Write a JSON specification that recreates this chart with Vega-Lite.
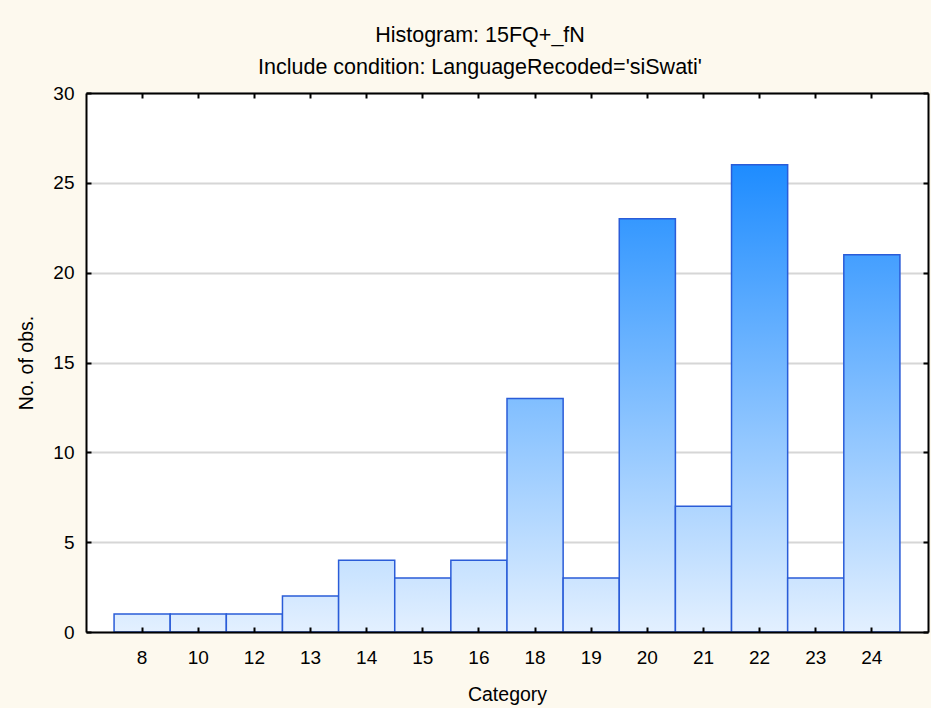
{
  "$schema": "https://vega.github.io/schema/vega-lite/v6.json",
  "width": 842,
  "height": 539,
  "autosize": {"type": "none"},
  "padding": {"left": 86, "top": 93, "right": 3, "bottom": 76},
  "background": "#fdf9ee",
  "view": {"fill": "white", "stroke": null},
  "title": {
    "text": "Histogram: 15FQ+_fN",
    "subtitle": "Include condition: LanguageRecoded='siSwati'",
    "anchor": "middle",
    "frame": "group",
    "dx": -27,
    "offset": 6,
    "font": "Liberation Sans",
    "fontSize": 21.5,
    "fontWeight": "normal",
    "color": "black",
    "subtitleFont": "Liberation Sans",
    "subtitleFontSize": 21.5,
    "subtitleColor": "black",
    "subtitlePadding": 10
  },
  "data": {
    "values": [
      {"Category": 8, "count": 1},
      {"Category": 10, "count": 1},
      {"Category": 12, "count": 1},
      {"Category": 13, "count": 2},
      {"Category": 14, "count": 4},
      {"Category": 15, "count": 3},
      {"Category": 16, "count": 4},
      {"Category": 18, "count": 13},
      {"Category": 19, "count": 3},
      {"Category": 20, "count": 23},
      {"Category": 21, "count": 7},
      {"Category": 22, "count": 26},
      {"Category": 23, "count": 3},
      {"Category": 24, "count": 21}
    ]
  },
  "resolve": {"axis": {"x": "independent", "y": "independent"}},
  "layer": [
    {
      "mark": {"type": "bar", "stroke": "#2a5cd8", "strokeWidth": 1.5},
      "encoding": {
        "x": {
          "field": "Category",
          "type": "ordinal",
          "scale": {"paddingInner": 0, "paddingOuter": 0.5},
          "axis": {
            "orient": "bottom",
            "title": "Category",
            "labelAngle": 0,
            "labelFont": "Liberation Sans",
            "labelFontSize": 19,
            "labelColor": "black",
            "labelPadding": 21,
            "titleFont": "Liberation Sans",
            "titleFontSize": 19.5,
            "titleFontWeight": "normal",
            "titleColor": "black",
            "titlePadding": 18,
            "domainColor": "black",
            "domainWidth": 2,
            "tickColor": "black",
            "tickWidth": 2,
            "tickSize": -5,
            "grid": false,
            "zindex": 1
          }
        },
        "y": {
          "field": "count",
          "type": "quantitative",
          "scale": {"domain": [0, 30], "nice": false},
          "axis": {
            "orient": "left",
            "title": "No. of obs.",
            "values": [0, 5, 10, 15, 20, 25, 30],
            "labelFont": "Liberation Sans",
            "labelFontSize": 19,
            "labelColor": "black",
            "labelPadding": 17,
            "titleFont": "Liberation Sans",
            "titleFontSize": 19.5,
            "titleFontWeight": "normal",
            "titleColor": "black",
            "titlePadding": 16,
            "domainColor": "black",
            "domainWidth": 2,
            "tickColor": "black",
            "tickWidth": 2,
            "tickSize": -5,
            "grid": true,
            "gridColor": "#d6d6d6",
            "gridWidth": 2,
            "zindex": 0
          }
        },
        "fill": {
          "condition": [
            {"test": "datum.count == 1", "value": {"gradient": "linear", "x1": 0, "y1": 1, "x2": 0, "y2": 0, "stops": [{"offset": 0, "color": "#e3f0ff"}, {"offset": 1, "color": "#dbecff"}]}},
            {"test": "datum.count == 2", "value": {"gradient": "linear", "x1": 0, "y1": 1, "x2": 0, "y2": 0, "stops": [{"offset": 0, "color": "#e3f0ff"}, {"offset": 1, "color": "#d4e8ff"}]}},
            {"test": "datum.count == 3", "value": {"gradient": "linear", "x1": 0, "y1": 1, "x2": 0, "y2": 0, "stops": [{"offset": 0, "color": "#e3f0ff"}, {"offset": 1, "color": "#cce4ff"}]}},
            {"test": "datum.count == 4", "value": {"gradient": "linear", "x1": 0, "y1": 1, "x2": 0, "y2": 0, "stops": [{"offset": 0, "color": "#e3f0ff"}, {"offset": 1, "color": "#c5e1ff"}]}},
            {"test": "datum.count == 7", "value": {"gradient": "linear", "x1": 0, "y1": 1, "x2": 0, "y2": 0, "stops": [{"offset": 0, "color": "#e3f0ff"}, {"offset": 1, "color": "#aed5ff"}]}},
            {"test": "datum.count == 13", "value": {"gradient": "linear", "x1": 0, "y1": 1, "x2": 0, "y2": 0, "stops": [{"offset": 0, "color": "#e3f0ff"}, {"offset": 1, "color": "#80beff"}]}},
            {"test": "datum.count == 21", "value": {"gradient": "linear", "x1": 0, "y1": 1, "x2": 0, "y2": 0, "stops": [{"offset": 0, "color": "#e3f0ff"}, {"offset": 1, "color": "#449fff"}]}},
            {"test": "datum.count == 23", "value": {"gradient": "linear", "x1": 0, "y1": 1, "x2": 0, "y2": 0, "stops": [{"offset": 0, "color": "#e3f0ff"}, {"offset": 1, "color": "#3598ff"}]}}
          ],
          "value": {"gradient": "linear", "x1": 0, "y1": 1, "x2": 0, "y2": 0, "stops": [{"offset": 0, "color": "#e3f0ff"}, {"offset": 1, "color": "#1e8cff"}]}
        }
      }
    },
    {
      "mark": {"type": "bar", "opacity": 0},
      "encoding": {
        "x": {
          "field": "Category",
          "type": "ordinal",
          "axis": {
            "orient": "top",
            "title": null,
            "labels": false,
            "domainColor": "black",
            "domainWidth": 2,
            "tickColor": "black",
            "tickWidth": 2,
            "tickSize": -5,
            "grid": false,
            "zindex": 1
          }
        },
        "y": {
          "field": "count",
          "type": "quantitative",
          "axis": {
            "orient": "right",
            "title": null,
            "labels": false,
            "values": [0, 5, 10, 15, 20, 25, 30],
            "domainColor": "black",
            "domainWidth": 2,
            "tickColor": "black",
            "tickWidth": 2,
            "tickSize": -5,
            "grid": false,
            "zindex": 1
          }
        }
      }
    }
  ]
}
